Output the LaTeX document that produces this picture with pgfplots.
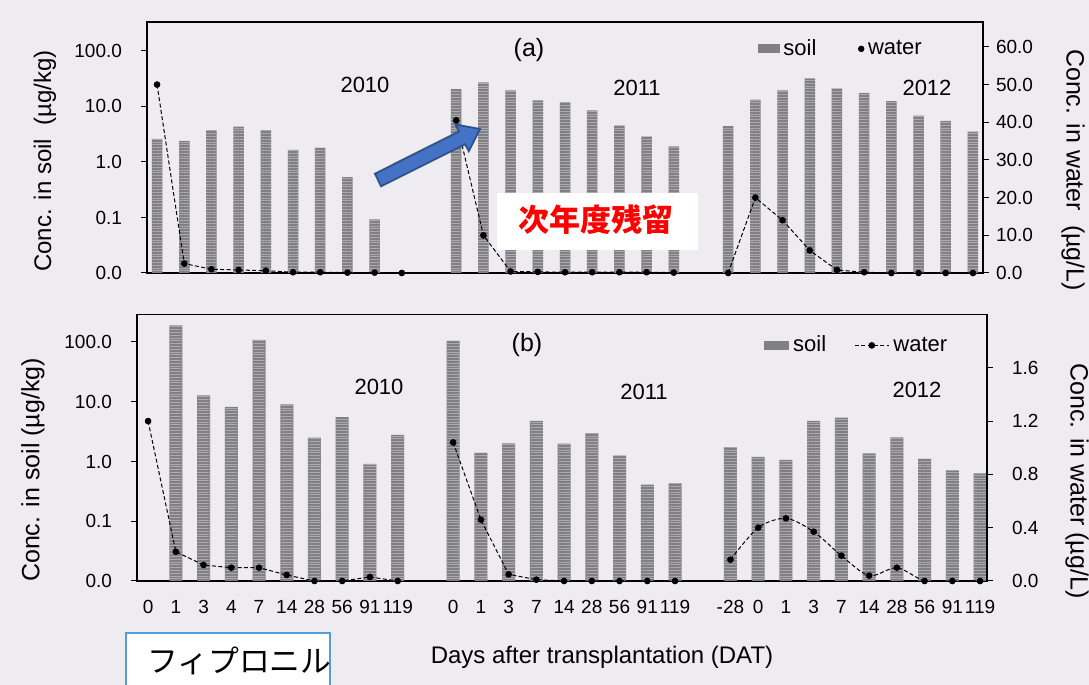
\documentclass[border=0pt]{standalone}
\usepackage{fontspec}
\setmainfont{Liberation Sans}
\newfontfamily\cjk{Noto Sans CJK JP}
\usepackage{pgfplots}
\pgfplotsset{compat=1.18}
\usetikzlibrary{patterns.meta}
\definecolor{bg}{RGB}{238,236,240}
\definecolor{barc}{RGB}{128,128,130}
\definecolor{arrfill}{RGB}{68,114,196}
\definecolor{arredge}{RGB}{47,82,143}
\definecolor{boxedge}{RGB}{91,155,213}
\newcommand{\lt}[1]{#1\hspace*{6pt}}
\newcommand{\rt}[1]{\hspace*{6pt}#1}
\pgfplotsset{
  every axis/.append style={scale only axis, anchor=south west,
    /pgf/number format/assume math mode=true,
    tick style={black, line width=0.5pt},
    axis line style={black, line width=0.6pt},
    ticklabel style={font=\fontsize{9.5}{11}\selectfont},
    major tick length=3pt},
  soilbar/.style={ybar, bar width=#1, fill=barc, draw=none,
    postaction={pattern={Lines[angle=0,distance=1.4pt,line width=0.25pt]}, pattern color=white!35!barc}},
  waterline/.style={black, line width=0.5pt, dash pattern=on 2pt off 1.2pt, mark=*, mark size=1.4pt, mark options={solid,fill=black}},
}
\begin{document}
\begin{tikzpicture}
\fill[bg] (0,0) rectangle (544.5pt,342.5pt);
\path[use as bounding box] (0,0) rectangle (544.5pt,342.5pt);

% ---------------- panel (a) ----------------
\begin{axis}[at={(73.5pt,206pt)}, width=418pt, height=125.5pt,
  xmin=-0.37, xmax=30.37, ymode=log, ymin=0.01, ymax=331, log origin y=infty,
  ytick={0.01,0.1,1,10,100},
  yticklabels={\lt{0.0},\lt{0.1},\lt{1.0},\lt{10.0},\lt{100.0}},
  yminorticks=false, ytick pos=left, tick align=outside, xtick=\empty]
\addplot[soilbar=5.25pt] table {
x y
0 2.6
1 2.4
2 3.7
3 4.3
4 3.7
5 1.65
6 1.8
7 0.53
8 0.092
11 20.4
12 27
13 19.5
14 12.9
15 11.8
16 8.5
17 4.5
18 2.85
19 1.9
21 4.4
22 13.2
23 19.4
24 32
25 21
26 17.5
27 12.5
28 6.8
29 5.5
30 3.5
};
\end{axis}
\begin{axis}[at={(73.5pt,206pt)}, width=418pt, height=125.5pt,
  xmin=-0.37, xmax=30.37, ymin=0, ymax=66.6,
  axis x line=none, axis y line*=right, tick align=outside,
  ytick={0,10,20,30,40,50,60}, yticklabels={0.0,10.0,20.0,30.0,40.0,50.0,60.0},
  legend columns=2,
  legend style={at={(0.831,0.893)}, anchor=center, draw=none, fill=none,
    font=\fontsize{11}{13}\selectfont,
    /tikz/every even column/.append style={column sep=19pt}}]
\addlegendimage{legend image code/.code={\fill[barc] (0pt,-2pt) rectangle (10.5pt,2pt);}}
\addlegendentry{soil}
\addlegendimage{only marks, mark=*, mark size=1.4pt, black}
\addlegendentry{water}
\addplot[waterline, forget plot] table {
x y
0 50
1 2.5
2 1.0
3 0.8
4 0.6
5 0.2
6 0.2
7 0.1
8 0.1
9 0.0
};
\addplot[waterline, forget plot] table {
x y
11 40.5
12 10
13 0.4
14 0.3
15 0.2
16 0.2
17 0.2
18 0.2
19 0.1
};
\addplot[waterline, forget plot] table {
x y
21 0
22 20
23 14
24 6
25 0.8
26 0.2
27 0
28 0
29 0
30 0
};
\end{axis}

% ---------------- panel (b) ----------------
\begin{axis}[at={(68.5pt,52pt)}, width=425pt, height=133.25pt,
  xmin=-0.40, xmax=30.25, ymode=log, ymin=0.01, ymax=288, log origin y=infty,
  ytick={0.01,0.1,1,10,100},
  yticklabels={\lt{0.0},\lt{0.1},\lt{1.0},\lt{10.0},\lt{100.0}},
  yminorticks=false, ytick pos=left, tick align=outside,
  xtick={0,1,2,3,4,5,6,7,8,9,11,12,13,14,15,16,17,18,19,21,22,23,24,25,26,27,28,29,30},
  xticklabels={0,1,3,4,7,14,28,56,91,119,0,1,3,7,14,28,56,91,119,-28,0,1,3,7,14,28,56,91,119},
  x tick style={draw=none}, xticklabel style={yshift=-3pt}]
\addplot[soilbar=6.5pt] table {
x y
1 190
2 12.8
3 8.2
4 108
5 9.0
6 2.5
7 5.5
8 0.91
9 2.8
11 104
12 1.39
13 2.0
14 4.8
15 1.98
16 2.95
17 1.25
18 0.41
19 0.43
21 1.74
22 1.19
23 1.06
24 4.8
25 5.4
26 1.37
27 2.54
28 1.11
29 0.71
30 0.63
};
\end{axis}
\begin{axis}[at={(68.5pt,52pt)}, width=425pt, height=133.25pt,
  xmin=-0.40, xmax=30.25, ymin=0, ymax=2.0,
  axis x line=none, axis y line*=right, tick align=outside,
  ytick={0,0.4,0.8,1.2,1.6}, yticklabels={\rt{0.0},\rt{0.4},\rt{0.8},\rt{1.2},\rt{1.6}},
  legend columns=2,
  legend style={at={(0.848,0.884)}, anchor=center, draw=none, fill=none,
    font=\fontsize{11}{13}\selectfont,
    /tikz/every even column/.append style={column sep=12pt}}]
\addlegendimage{legend image code/.code={\fill[barc] (0pt,-2pt) rectangle (12pt,2pt);}}
\addlegendentry{soil}
\addlegendimage{waterline}
\addlegendentry{water}
\addplot[waterline, forget plot] table {
x y
0 1.2
1 0.22
2 0.12
3 0.10
4 0.10
5 0.045
6 0.0
7 0.0
8 0.03
9 0.0
};
\addplot[waterline, forget plot] table {
x y
11 1.04
12 0.46
13 0.05
14 0.01
15 0
16 0
17 0
18 0
19 0
};
\addplot[waterline, smooth, forget plot] table {
x y
21 0.16
22 0.40
23 0.47
24 0.37
25 0.19
26 0.04
27 0.10
28 0
29 0
30 0
};
\end{axis}

% ---------------- texts and annotations ----------------
\begin{scope}[x=0.5pt, y=-0.5pt, yshift=342.5pt]
\node[font=\fontsize{12}{14}\selectfont, rotate=90] at (45,161) {Conc. in soil\ \ (µg/kg)};
\node[font=\fontsize{12.5}{14}\selectfont, rotate=-90] at (1073,170) {Conc. in water\ \ (µg/L)};
\node[font=\fontsize{12.5}{14}\selectfont, rotate=90] at (33,470) {Conc. in soil (µg/kg)};
\node[font=\fontsize{12.5}{14}\selectfont, rotate=-90] at (1077,481) {Conc. in water (µg/L)};
\node[font=\fontsize{12}{14}\selectfont] at (602,657) {Days after transplantation (DAT)};
\node[font=\fontsize{11}{13}\selectfont] at (365,85) {2010};
\node[font=\fontsize{11}{13}\selectfont] at (637,88) {2011};
\node[font=\fontsize{11}{13}\selectfont] at (927,88) {2012};
\node[font=\fontsize{11}{13}\selectfont] at (379,387) {2010};
\node[font=\fontsize{11}{13}\selectfont] at (644,392) {2011};
\node[font=\fontsize{11}{13}\selectfont] at (917,390) {2012};
\node[font=\fontsize{12.5}{14}\selectfont] at (529,50) {(a)};
\node[font=\fontsize{12.5}{14}\selectfont] at (527,345) {(b)};
% arrow
\filldraw[fill=arrfill, draw=arredge, line width=0.9pt, line join=miter]
  (381.1,186.3) -- (465.2,144.2) -- (468.8,151.3) -- (480,129) -- (455.4,124.5) -- (459.0,131.6) -- (374.9,173.7) -- cycle;
% red label box
\fill[white] (497,193) rectangle (698,250);
\node[text=red, font=\cjk\bfseries\fontsize{15.5}{18}\selectfont] at (595.5,219.5) {次年度残留};
% fipronil box
\filldraw[fill=white, draw=boxedge, line width=0.8pt] (126,633) rectangle (330,692);
\node[anchor=west, inner sep=0pt, font=\cjk\fontsize{15.4}{18}\selectfont] at (147,661) {フィプロニル};
\end{scope}
\end{tikzpicture}
\end{document}
